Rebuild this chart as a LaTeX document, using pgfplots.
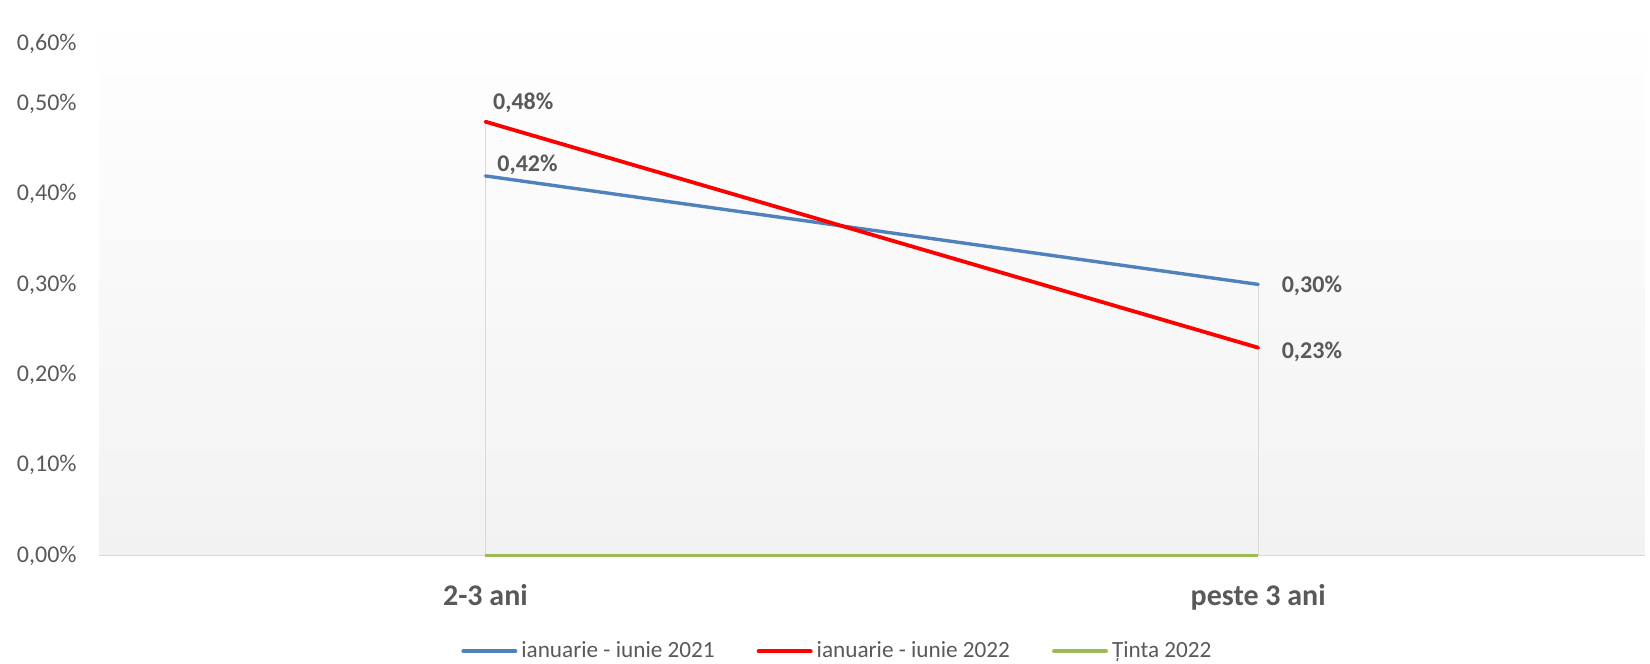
\documentclass[border=0pt]{standalone}
\usepackage{pgfplots}
\pgfplotsset{compat=1.18}
\usepackage{fontspec}
\setmainfont{Carlito}
\definecolor{txt}{RGB}{89,89,89}
\definecolor{blueL}{RGB}{79,129,189}
\definecolor{redL}{RGB}{255,0,0}
\definecolor{greenL}{RGB}{155,187,89}
\definecolor{axgray}{RGB}{217,217,217}
\definecolor{bgbot}{RGB}{242,242,242}
\begin{document}
\begin{tikzpicture}
\path[use as bounding box] (-49.5pt,-54.2pt) rectangle (775.5pt,277.8pt);
\begin{axis}[
  scale only axis,
  width=772.8pt, height=271.2pt,
  xmin=-0.5, xmax=1.5, ymin=0, ymax=0.6,
  axis background/.style={top color=white, bottom color=bgbot},
  axis x line*=bottom, axis y line*=left,
  x axis line style={draw=axgray, line width=0.8pt, -},
  y axis line style={draw=none},
  xtick={0,1}, xticklabels={2-3 ani,peste 3 ani},
  major tick length=0pt,
  xticklabel style={font=\fontsize{15}{18}\selectfont\bfseries, text=txt, inner sep=0pt, anchor=north, yshift=-14pt},
  ytick={0,0.1,0.2,0.3,0.4,0.5,0.5658},
  yticklabels={0{,}00\%,0{,}10\%,0{,}20\%,0{,}30\%,0{,}40\%,0{,}50\%,0{,}60\%},
  yticklabel style={font=\fontsize{12}{14}\selectfont, text=txt, inner sep=0pt, anchor=east, xshift=-11pt},
  /pgf/number format/assume math mode=true,
  clip=false,
  legend columns=3,
  legend style={at={(rel axis cs:0.2342,-0.1766)}, anchor=west, draw=none, fill=none, inner sep=0pt,
    font=\fontsize{11.6}{14}\selectfont, text=txt,
    /tikz/every even column/.append style={column sep=19pt}},
  legend image code/.code={\draw[#1, line width=2pt, line cap=round] (0pt,0pt) -- (26pt,0pt);},
  legend cell align=left,
]
\addplot[axgray, line width=0.5pt, forget plot] coordinates {(0,0) (0,0.48)};
\addplot[axgray, line width=0.5pt, forget plot] coordinates {(1,0) (1,0.30)};
\addplot[blueL, line width=1.7pt, line cap=round] coordinates {(0,0.42) (1,0.30)};
\addlegendentry{ianuarie - iunie 2021}
\addplot[redL, line width=1.9pt, line cap=round] coordinates {(0,0.48) (1,0.23)};
\addlegendentry{ianuarie - iunie 2022}
\addplot[greenL, line width=1.7pt] coordinates {(0,0) (1,0)};
\addlegendentry{Ținta 2022}
\begin{scope}[every node/.style={font=\fontsize{12}{14}\selectfont\bfseries, text=txt, inner sep=0pt, anchor=west}]
\node[xshift=3.7pt, yshift=9.5pt] at (axis cs:0,0.48) {0,48\%};
\node[xshift=5.8pt, yshift=5.4pt] at (axis cs:0,0.42) {0,42\%};
\node[xshift=11.6pt, yshift=-0.9pt] at (axis cs:1,0.30) {0,30\%};
\node[xshift=11.6pt, yshift=-1.9pt] at (axis cs:1,0.23) {0,23\%};
\end{scope}
\end{axis}
\end{tikzpicture}
\end{document}
